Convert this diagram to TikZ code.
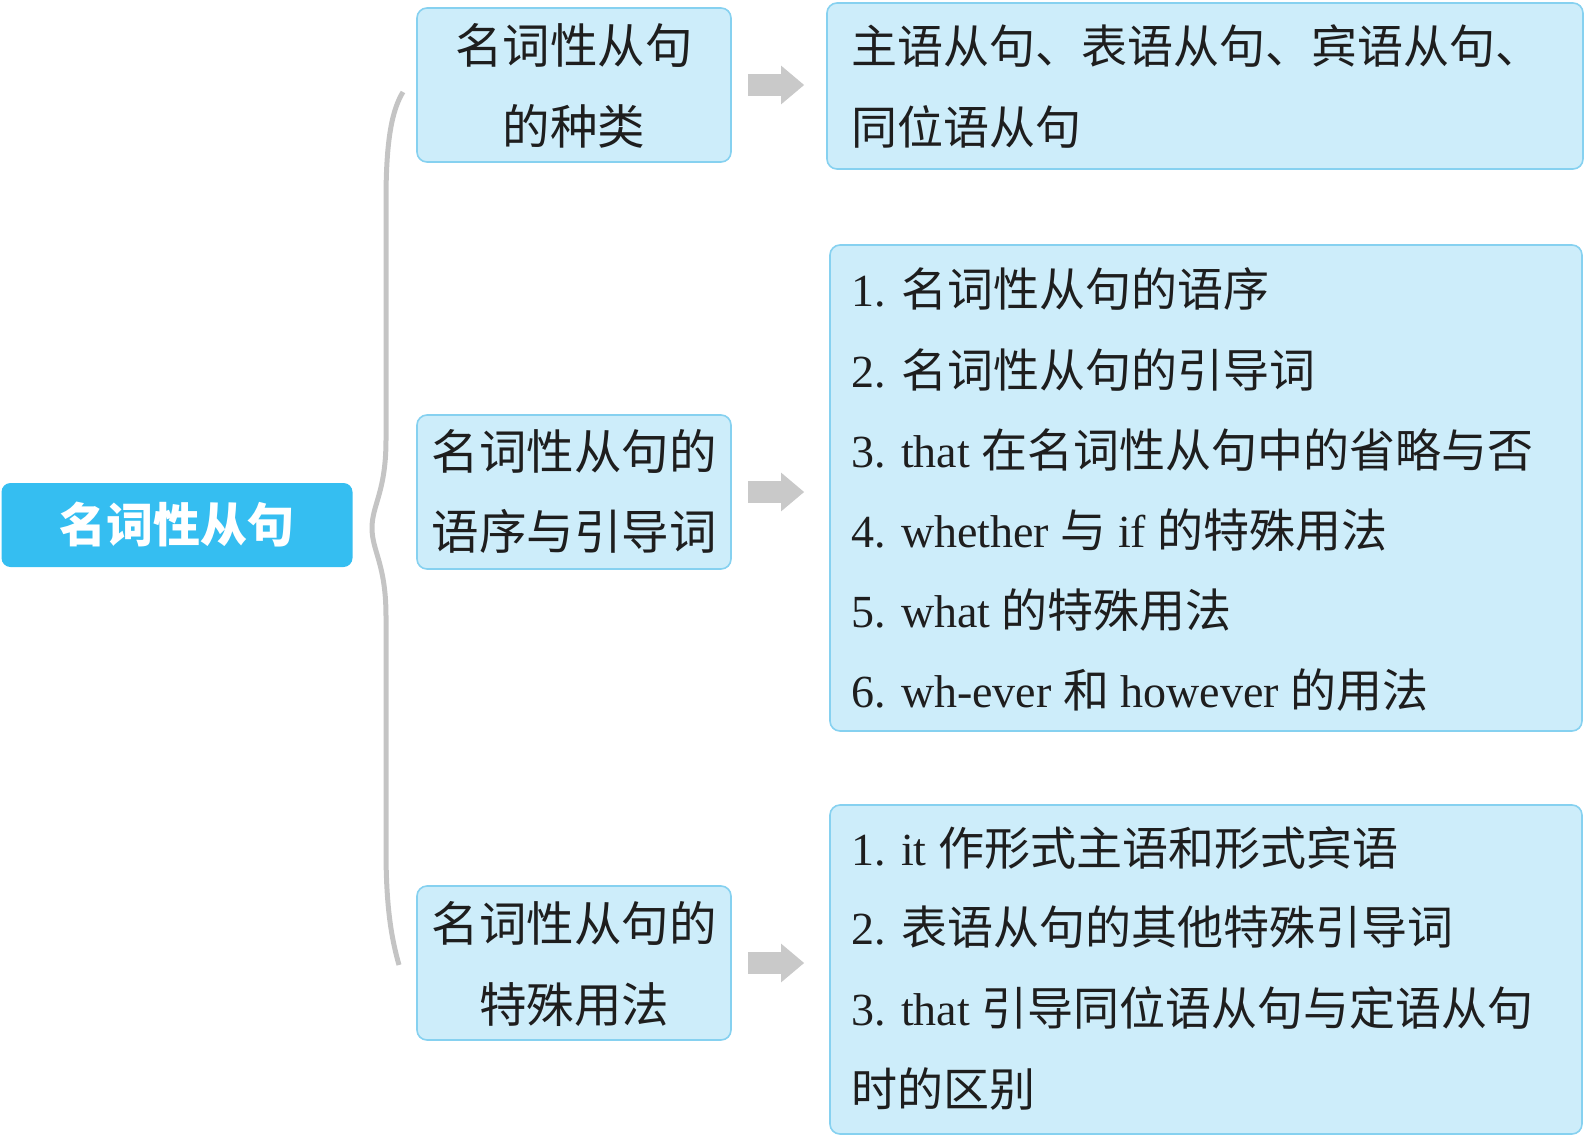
\documentclass[tikz,border=0pt]{standalone}
\usepackage{fontspec}
\setmainfont{Liberation Serif}
\newfontfamily\cjk{Noto Sans CJK SC}
\usetikzlibrary{arrows.meta}
\definecolor{rootblue}{HTML}{35BEF1}
\definecolor{boxfill}{HTML}{CDEDFA}
\definecolor{boxline}{HTML}{86D1F0}
\definecolor{arrowgray}{HTML}{C9C9C9}
\definecolor{bracegray}{HTML}{C4C4C4}
\definecolor{txt}{HTML}{1E1E1E}
\newcommand{\zh}[1]{{\cjk #1}}
\begin{document}
\begin{tikzpicture}[x=1pt,y=-1pt,
  rootbox/.style={fill=rootblue, rounded corners=9pt, minimum width=351pt, minimum height=84pt, inner sep=0pt, text=white, text height=41.4pt, text depth=5.6pt, font=\cjk\bfseries\fontsize{47}{50}\selectfont},
  midbox/.style={draw=boxline, line width=1.6pt, fill=boxfill, rounded corners=10pt, inner sep=0pt, minimum width=314pt, minimum height=154pt},
  infobox/.style={draw=boxline, line width=1.6pt, fill=boxfill, rounded corners=10pt, inner sep=0pt},
  midtext/.style={inner sep=0pt, text height=41.8pt, text depth=5.7pt, font=\cjk\fontsize{47.5}{50}\selectfont, text=txt},
  linetext/.style={anchor=west, inner sep=0pt, text height=40.5pt, text depth=5.5pt, font=\fontsize{46}{50}\selectfont, text=txt},
  blockarrow/.style={draw=arrowgray, line width=22pt, -{Triangle[width=37pt,length=23pt]}, shorten <=16pt},
  bracestroke/.style={draw=bracegray, line width=5pt},
]
\useasboundingbox (0,0) rectangle (1588,1138);

% root
\node[rootbox] (root) at (177,525) {名词性从句};

% middle boxes
\node[midbox] (m1) at (574,85) {};
\node[midbox] (m2) at (574,492) {};
\node[midbox] (m3) at (574,963) {};

\node[midtext] (m1a) at (574,45.6) {名词性从句};
\node[midtext] (m1b) at (574,126.6) {的种类};
\node[midtext] (m2a) at (574,451.7) {名词性从句的};
\node[midtext] (m2b) at (574,531.7) {语序与引导词};
\node[midtext] (m3a) at (574,923.7) {名词性从句的};
\node[midtext] (m3b) at (574,1004.7) {特殊用法};

% right boxes
\node[infobox, minimum width=756pt, minimum height=166pt] (r1) at (1205,86) {};
\node[infobox, minimum width=752pt, minimum height=486pt] (r2) at (1206,488) {};
\node[infobox, minimum width=752pt, minimum height=329pt] (r3) at (1206,969.5) {};

\node[linetext] (r1a) at (851,46) {\zh{主语从句、表语从句、宾语从句、}};
\node[linetext] (r1b) at (851,127) {\zh{同位语从句}};

\node[linetext] (r2a) at (851,288.6) {1. \zh{名词性从句的语序}};
\node[linetext] (r2b) at (851,369.7) {2. \zh{名词性从句的引导词}};
\node[linetext] (r2c) at (851,449.7) {3. that \zh{在名词性从句中的省略与否}};
\node[linetext] (r2d) at (851,529.7) {4. whether \zh{与} if \zh{的特殊用法}};
\node[linetext] (r2e) at (851,609.7) {5. what \zh{的特殊用法}};
\node[linetext] (r2f) at (851,689.7) {6. wh-ever \zh{和} however \zh{的用法}};

\node[linetext] (r3a) at (851,847.7) {1. it \zh{作形式主语和形式宾语}};
\node[linetext] (r3b) at (851,926.7) {2. \zh{表语从句的其他特殊引导词}};
\node[linetext] (r3c) at (851,1007.7) {3. that \zh{引导同位语从句与定语从句}};
\node[linetext] (r3d) at (851,1088.7) {\zh{时的区别}};

% arrows
\draw[blockarrow, shorten >=22pt] (m1.east) -- (m1.east -| r1.west);
\draw[blockarrow, shorten >=25pt] (m2.east) -- (m2.east -| r2.west);
\draw[blockarrow, shorten >=25pt] (m3.east) -- (m3.east -| r3.west);

% brace
\coordinate (bt) at (403,92);
\coordinate (bm) at (372,528);
\coordinate (bb) at (399,965);
\draw[bracestroke] (bt) .. controls (392,110) and (386,140) .. (386,200)
  -- (386,440) .. controls (386,492) and (372,505) .. (bm)
  .. controls (372,551) and (386,564) .. (386,616)
  -- (386,850) .. controls (386,910) and (392,940) .. (bb);
\end{tikzpicture}
\end{document}
